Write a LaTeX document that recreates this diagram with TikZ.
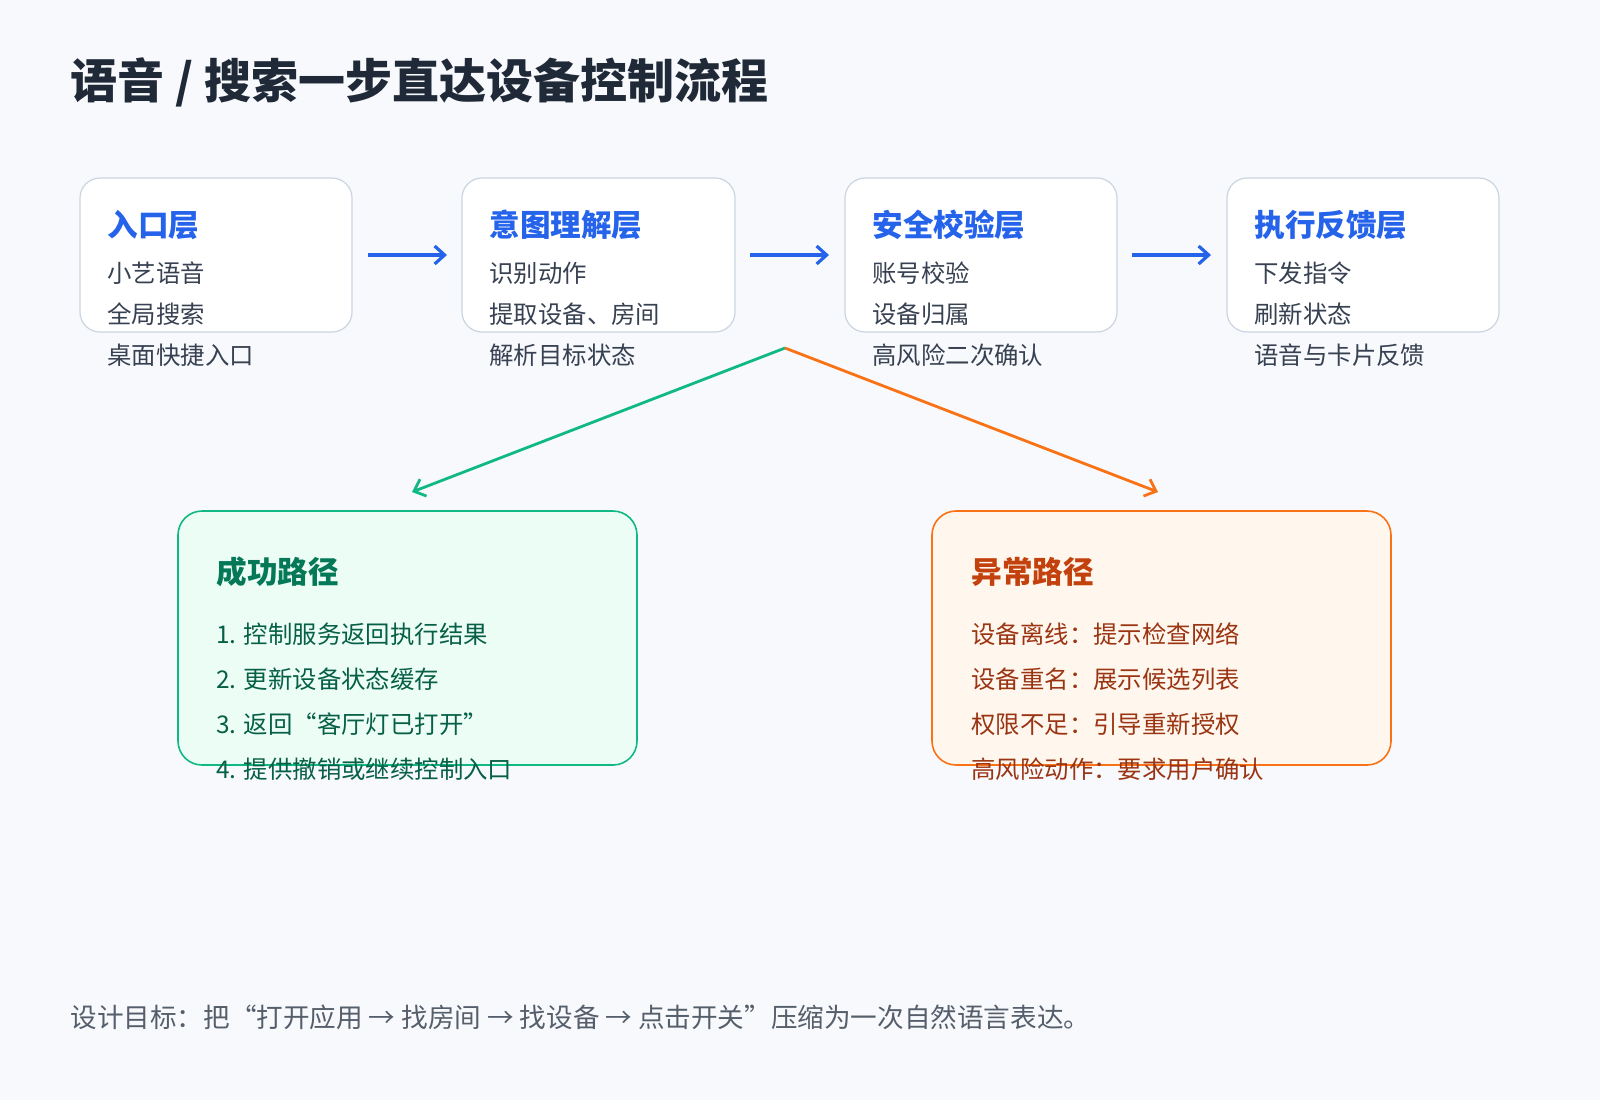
\documentclass[tikz,border=0pt]{standalone}
\usepackage{fontspec}
\setmainfont{Noto Sans CJK SC}
\usetikzlibrary{arrows.meta,positioning}
\definecolor{bgpage}{HTML}{F7F9FC}
\definecolor{fontdark}{HTML}{1F2937}
\definecolor{fontgray}{HTML}{374151}
\definecolor{boxline}{HTML}{CBD5E1}
\definecolor{myblue}{HTML}{2563EB}
\definecolor{grass}{HTML}{10B981}
\definecolor{grassdark}{HTML}{047857}
\definecolor{grasstext}{HTML}{065F46}
\definecolor{grassfill}{HTML}{ECFDF5}
\definecolor{myorange}{HTML}{F97316}
\definecolor{orangedark}{HTML}{C2410C}
\definecolor{orangetext}{HTML}{9A3412}
\definecolor{orangefill}{HTML}{FFF7ED}
\begin{document}
\begin{tikzpicture}[x=0.5pt, y=-0.5pt, >=Stealth,
			layer/.style={draw=boxline, fill=white, rounded corners=10pt, line width=0.6pt},
			ltitle/.style={anchor=west, inner sep=0pt, text=myblue, font=\fontsize{15.3}{18}\selectfont\bfseries},
			litem/.style={anchor=west, inner sep=0pt, text=fontgray, font=\fontsize{12.2}{14}\selectfont},
			flow/.style={->, line width=1.6pt, color=myblue, -{Straight Barb[length=5pt,width=9pt]}},
			branch/.style={line width=1.4pt, -{Straight Barb[length=5pt,width=9pt]}},
			ptitle/.style={anchor=west, inner sep=0pt, font=\fontsize{15.3}{18}\selectfont\bfseries},
			pitem/.style={anchor=west, inner sep=0pt, font=\fontsize{12.2}{14}\selectfont}
			]
			\fill[bgpage] (0,0) rectangle (1600,1100);
			\useasboundingbox (0,0) rectangle (1600,1100);
			\node[anchor=west, inner sep=0pt, text=fontdark, font=\fontsize{23.5}{27}\selectfont\bfseries](title) at (70,82) {语音 / 搜索一步直达设备控制流程};
			
			% layers
			\draw[layer] (80,178) rectangle (352,332);
			\node[ltitle](l1) at (107,225) {入口层};
			\node[litem](l1a) at (107,273) {小艺语音};
			\node[litem](l1b) at (107,314) {全局搜索};
			\node[litem](l1c) at (107,355) {桌面快捷入口};
			
			\draw[layer] (462,178) rectangle (735,332);
			\node[ltitle](l2) at (489,225) {意图理解层};
			\node[litem](l2a) at (489,273) {识别动作};
			\node[litem](l2b) at (489,314) {提取设备、房间};
			\node[litem](l2c) at (489,355) {解析目标状态};
			
			\draw[layer] (845,178) rectangle (1117,332);
			\node[ltitle](l3) at (872,225) {安全校验层};
			\node[litem](l3a) at (872,273) {账号校验};
			\node[litem](l3b) at (872,314) {设备归属};
			\node[litem](l3c) at (872,355) {高风险二次确认};
			
			\draw[layer] (1227,178) rectangle (1499,332);
			\node[ltitle](l4) at (1254,225) {执行反馈层};
			\node[litem](l4a) at (1254,273) {下发指令};
			\node[litem](l4b) at (1254,314) {刷新状态};
			\node[litem](l4c) at (1254,355) {语音与卡片反馈};
			
			\coordinate (a1s) at (368,255); \coordinate (a1e) at (447,255);
			\coordinate (a2s) at (750,255); \coordinate (a2e) at (829,255);
			\coordinate (a3s) at (1132,255); \coordinate (a3e) at (1211,255);
			\draw[flow] (a1s) -- (a1e);
			\draw[flow] (a2s) -- (a2e);
			\draw[flow] (a3s) -- (a3e);
			
			% branches
			\coordinate (split) at (785,348);
			\coordinate (okend) at (412,492);
			\coordinate (errend) at (1158,492);
			\draw[branch, color=grass] (split) -- (okend);
			\draw[branch, color=myorange] (split) -- (errend);
			
			% success path
			\draw[draw=grass, fill=grassfill, rounded corners=12pt, line width=0.8pt] (178,511) rectangle (637,765);
			\node[ptitle, text=grassdark](ok) at (216,572) {成功路径};
			\node[pitem, text=grasstext](ok1) at (216,634) {1. 控制服务返回执行结果};
			\node[pitem, text=grasstext](ok2) at (216,679) {2. 更新设备状态缓存};
			\node[pitem, text=grasstext](ok3) at (216,724) {3. 返回“客厅灯已打开”};
			\node[pitem, text=grasstext](ok4) at (216,769) {4. 提供撤销或继续控制入口};
			
			% error path
			\draw[draw=myorange, fill=orangefill, rounded corners=12pt, line width=0.8pt] (932,511) rectangle (1391,765);
			\node[ptitle, text=orangedark](err) at (971,572) {异常路径};
			\node[pitem, text=orangetext](err1) at (971,634) {设备离线：提示检查网络};
			\node[pitem, text=orangetext](err2) at (971,679) {设备重名：展示候选列表};
			\node[pitem, text=orangetext](err3) at (971,724) {权限不足：引导重新授权};
			\node[pitem, text=orangetext](err4) at (971,769) {高风险动作：要求用户确认};
			
			\node[anchor=west, inner sep=0pt, text=fontgray!85, font=\fontsize{13.3}{16}\selectfont](goal) at (70,1017) {设计目标：把“打开应用 → 找房间 → 找设备 → 点击开关”压缩为一次自然语言表达。};
\end{tikzpicture}
\end{document}
